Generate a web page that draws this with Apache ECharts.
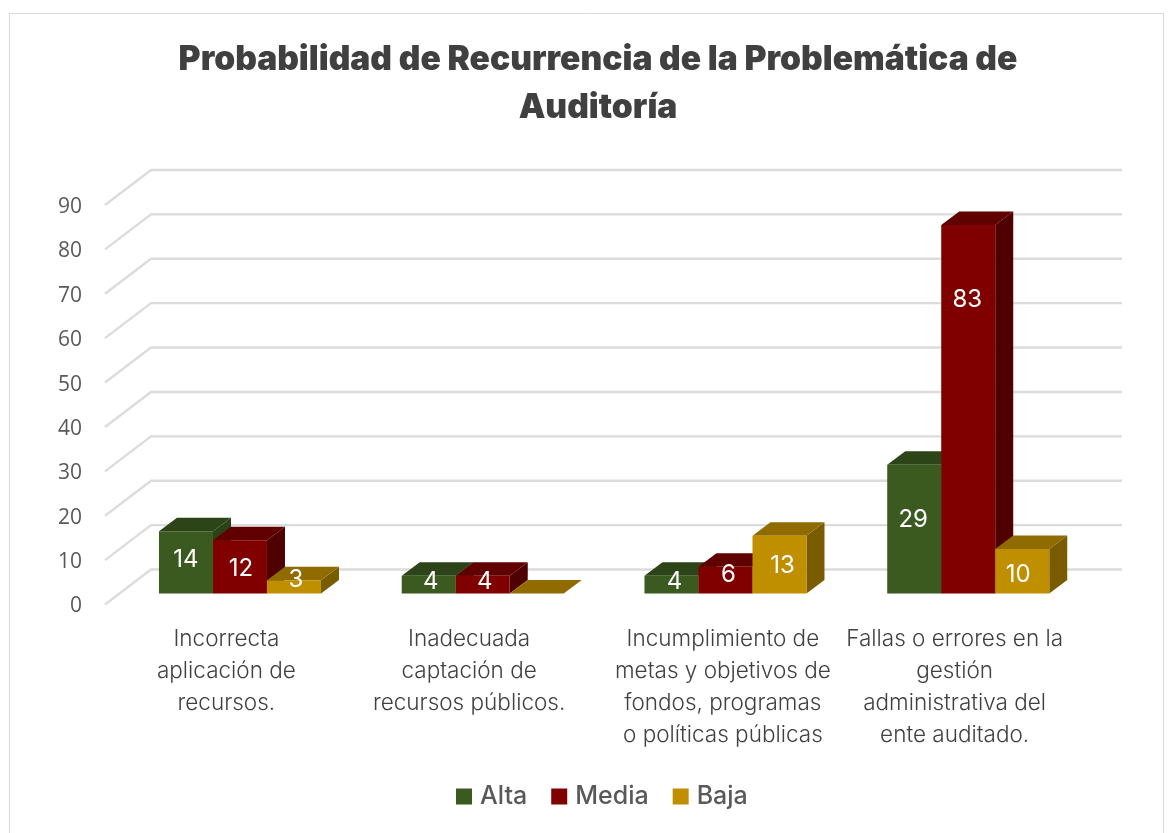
<!DOCTYPE html>
<html>
  <head>
    <meta charset="utf-8" />
    <title>Probabilidad de Recurrencia</title>
    <style type="text/css">
      html,
      body {
        width: 100%;
        height: 100%;
        margin: 0px;
        background: #fff;
      }

      #chart {
        width: 1176px;
        height: 833px;
      }
    </style>
    <script type="text/javascript" src="https://fastly.jsdelivr.net/npm/echarts@6/dist/echarts.min.js"></script>
  </head>

  <body>
    <div id="chart"></div>
    <script>
      const titleText = "Probabilidad de Recurrencia de la Problemática de\nAuditoría";
      const categories = [
        "Incorrecta\naplicación de\nrecursos.",
        "Inadecuada\ncaptación de\nrecursos públicos.",
        "Incumplimiento de\nmetas y objetivos de\nfondos, programas\no políticas públicas",
        "Fallas o errores en la\ngestión\nadministrativa del\nente auditado.",
      ];
      const yTicks = [0, 10, 20, 30, 40, 50, 60, 70, 80, 90];
      const alta = [14, 4, 4, 29];
      const media = [12, 4, 6, 83];
      const baja = [3, 0, 13, 10];

      // apariencia de las barras 3D (frente, tapa, lado)
      const palette = {
        Alta: ["#3b5a20", "#2c4418", "#2c4318"],
        Media: ["#800000", "#600000", "#4f0000"],
        Baja: ["#bf8f00", "#8f6b00", "#7a5c00"],
      };
      const wallDx = 46, wallDy = -35;
      const barW = 54, depthX = 18, depthY = -13.5;
      const barShiftX = 13.6, barShiftY = -11;
      // ajuste [dx, dy] de cada etiqueta respecto al centro de la cara frontal
      const labelNudge = [
        [[0, -3], [2, -3], [3, -3], [-1, -9]],
        [[1, 2], [2, -3], [3, -5], [-1, -109.5]],
        [[2, -7], [0, 0], [3, 1], [-4, 3]],
      ];
      const labelFont = "Inter";

      function poly(points, color) {
        return { type: "polygon", shape: { points }, style: { fill: color } };
      }

      function barSeries(name, values, slot) {
        const colors = palette[name];
        return {
          name,
          type: "custom",
          coordinateSystem: "cartesian2d",
          itemStyle: { color: colors[0] },
          clip: false,
          z: 3 + slot,
          data: values.map((v, i) => [i, v]),
          renderItem(params, api) {
            const cat = api.value(0);
            const val = api.value(1);
            const base = api.coord([cat, 0]);
            const top = api.coord([cat, val]);
            const x0 = base[0] + barShiftX + (slot - 1.5) * barW;
            const x1 = x0 + barW;
            const y0 = base[1] + barShiftY;
            const y1 = top[1] + barShiftY;
            const children = [];
            if (val > 0) {
              children.push(poly([[x1, y0], [x1 + depthX, y0 + depthY], [x1 + depthX, y1 + depthY], [x1, y1]], colors[2]));
            }
            children.push(poly([[x0, y1], [x0 + depthX, y1 + depthY], [x1 + depthX, y1 + depthY], [x1, y1]], colors[1]));
            if (val > 0) {
              children.push(poly([[x0, y0], [x1, y0], [x1, y1], [x0, y1]], colors[0]));
              const nudge = labelNudge[slot][cat];
              children.push({
                type: "text",
                z2: 50,
                style: {
                  x: (x0 + x1) / 2 + nudge[0],
                  y: (y0 + y1) / 2 + nudge[1],
                  text: String(val),
                  align: "center",
                  verticalAlign: "middle",
                  fill: "#fff",
                  font: "400 24px " + labelFont,
                },
              });
            }
            return { type: "group", children };
          },
        };
      }

      const wallSeries = {
        type: "custom",
        coordinateSystem: "cartesian2d",
        clip: false,
        silent: true,
        z: 1,
        data: yTicks.map((v) => [0, v]),
        renderItem(params, api) {
          const y = api.coord([0, api.value(1)])[1];
          const left = params.coordSys.x;
          const right = left + params.coordSys.width;
          return {
            type: "polyline",
            shape: {
              points: [[left, y], [left + wallDx, y + wallDy], [right + wallDx, y + wallDy]],
            },
            style: { fill: null, stroke: "#dcdcdc", lineWidth: 2.4 },
          };
        },
      };

      const catStyle = {
        fontFamily: labelFont,
        fontWeight: 300,
        fontSize: 22.5,
        lineHeight: 32,
        color: "#404040",
      };

      const myChart = echarts.init(document.getElementById("chart"), null, { renderer: "canvas" });
      myChart.setOption({
        animation: false,
        backgroundColor: "#fff",
        title: {
          text: titleText,
          left: 593,
          top: 31,
          textAlign: "center",
          textStyle: {
            fontFamily: labelFont,
            fontWeight: 900,
            fontSize: 33.6,
            lineHeight: 48,
            color: "#404040",
          },
        },
        graphic: [
          {
            type: "polyline",
            shape: { points: [[9.5, 833], [9.5, 13.5], [1163.5, 13.5], [1163.5, 833]] },
            style: { fill: null, stroke: "#d9d9d9", lineWidth: 1 },
            silent: true,
          },
        ],
        legend: {
          bottom: 19,
          left: 451,
          icon: "rect",
          itemWidth: 16,
          itemHeight: 16,
          itemGap: 24,
          data: ["Alta", "Media", "Baja"],
          textStyle: { fontFamily: labelFont, fontSize: 25, fontWeight: 500, color: "#595959", padding: [0, 0, 0, 3] },
        },
        grid: { left: 105, right: 100, top: 205, bottom: 228.5 },
        xAxis: {
          type: "category",
          data: categories,
          axisLine: { show: false },
          axisTick: { show: false },
          axisLabel: Object.assign({}, catStyle, {
            interval: 0,
            margin: 19,
            // la tercera categoría está algo desplazada a la derecha
            formatter(value, index) {
              if (index !== 2) return value;
              return value.split("\n").map((l) => "{shift|" + l + "}").join("\n");
            },
            rich: { shift: Object.assign({}, catStyle, { padding: [0, 0, 0, 22] }) },
          }),
        },
        yAxis: {
          type: "value",
          min: 0,
          max: 90,
          interval: 10,
          axisLine: { show: false },
          axisTick: { show: false },
          splitLine: { show: false },
          axisLabel: {
            margin: 23,
            fontFamily: "Open Sans",
            fontSize: 21,
            color: "#595959",
            verticalAlign: "top",
            lineHeight: 4,
          },
        },
        series: [wallSeries, barSeries("Alta", alta, 0), barSeries("Media", media, 1), barSeries("Baja", baja, 2)],
      });
    </script>
  </body>
</html>
